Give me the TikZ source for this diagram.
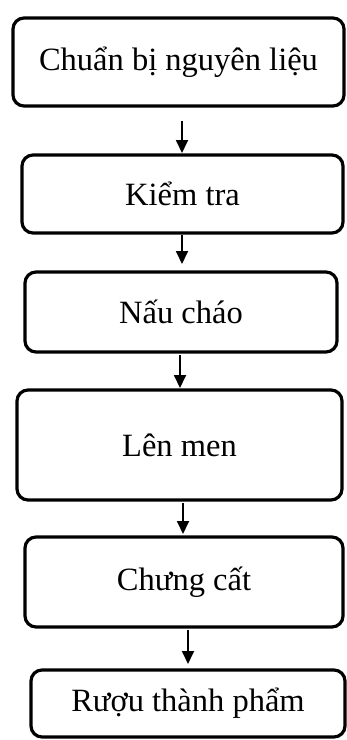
\documentclass[tikz,border=0pt]{standalone}
\usepackage{fontspec}
\setmainfont{Liberation Serif}
\usetikzlibrary{arrows.meta}
\begin{document}
\begin{tikzpicture}[x=1pt,y=-1pt,
  stepbox/.style={draw=black, line width=3.2pt, rounded corners=11pt, inner sep=0pt,
    font=\fontsize{32.5pt}{36pt}\selectfont, anchor=center},
  arr/.style={line width=1.8pt, -{Triangle[length=13pt,width=12pt]}}]
\useasboundingbox (0,0) rectangle (347,740);
\fill[white] (0,0) rectangle (347,740);
\node[stepbox, minimum width=331pt, minimum height=88pt] (b1) at (178.5,62) {Chuẩn bị nguyên liệu};
\node[stepbox, minimum width=321pt, minimum height=78pt] (b2) at (182.5,194) {Kiểm tra};
\node[stepbox, minimum width=312pt, minimum height=80pt] (b3) at (181,312) {Nấu cháo};
\node[stepbox, minimum width=325pt, minimum height=110pt] (b4) at (179.5,445) {Lên men};
\node[stepbox, minimum width=318pt, minimum height=90pt] (b5) at (184,582) {Chưng cất};
\node[stepbox, minimum width=314pt, minimum height=67pt] (b6) at (188,703.5) {Rượu thành phẩm};
\coordinate (a1s) at (182,121);
\coordinate (a1e) at (182,153);
\coordinate (a2s) at (182,235);
\coordinate (a2e) at (182,264);
\coordinate (a3s) at (180,355);
\coordinate (a3e) at (180,388);
\coordinate (a4s) at (183,503);
\coordinate (a4e) at (183,534);
\coordinate (a5s) at (188,630);
\coordinate (a5e) at (188,664);
\draw[arr] (a1s) -- (a1e);
\draw[arr] (a2s) -- (a2e);
\draw[arr] (a3s) -- (a3e);
\draw[arr] (a4s) -- (a4e);
\draw[arr] (a5s) -- (a5e);
\end{tikzpicture}
\end{document}
